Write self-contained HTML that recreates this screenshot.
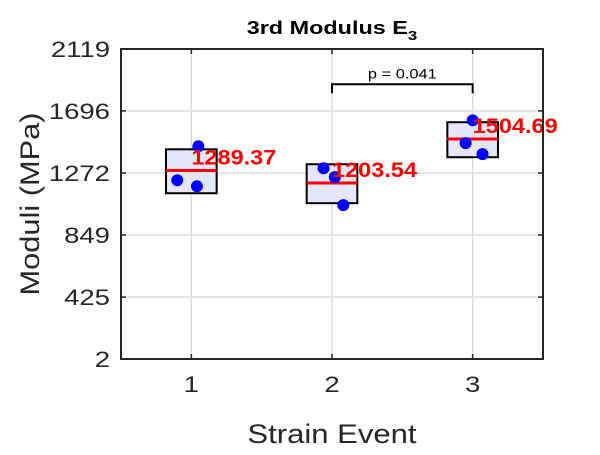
<!DOCTYPE html>
<html><head><meta charset="utf-8"><style>
body{margin:0;background:#fff}
svg{font-family:"Liberation Sans",Arial,sans-serif}
</style></head><body>
<svg id="chart" width="600" height="450"></svg>
<script>
const categories=[1,2,3];
const medians=[1289.37,1203.54,1504.69];
const boxTop=[1434,1332,1619];
const boxBottom=[1134,1066,1380];
const pointsX=[[1.05,0.9,1.04],[1.94,2.02,2.08],[3.0,2.95,3.07]];
const pointsY=[[1455,1223,1182],[1305,1244,1053],[1632,1476,1401]];
const yTicks=[2,425,849,1272,1696,2119];
const xTicks=[1,2,3];
const pValue="p = 0.041";
const bracketY=1878;

const L=121,R=543,T=49,B=359;
const xs=v=>L+(v-0.5)/3*(R-L);
const ys=v=>B-(v-2)/(2119-2)*(B-T);
const svg=document.getElementById('chart');
const NS='http://www.w3.org/2000/svg';
function mk(tag,attrs,parent){const e=document.createElementNS(NS,tag);for(const k in attrs)e.setAttribute(k,attrs[k]);(parent||svg).appendChild(e);return e;}
function widen(el,f){const w=el.getComputedTextLength();el.setAttribute('textLength',w*f);el.setAttribute('lengthAdjust','spacingAndGlyphs');}

yTicks.forEach(t=>{const g=mk('line',{x1:L,x2:R,y1:ys(t),y2:ys(t),stroke:'#dcdcdc','stroke-width':1.5});
});
xTicks.forEach(t=>{const g=mk('line',{x1:xs(t),x2:xs(t),y1:T,y2:B,stroke:'#dcdcdc','stroke-width':1.5});
});

categories.forEach((c,i)=>{
 const hw=0.18;
 const r=mk('rect',{x:xs(c-hw),y:ys(boxTop[i]),width:xs(c+hw)-xs(c-hw),height:ys(boxBottom[i])-ys(boxTop[i]),fill:'#e6e6fa',stroke:'#000','stroke-width':2});
 
 const m=mk('line',{x1:xs(c-hw),x2:xs(c+hw),y1:ys(medians[i]),y2:ys(medians[i]),stroke:'#f00','stroke-width':3});
 
 pointsX[i].forEach((px,j)=>{
  const p=mk('circle',{cx:xs(px),cy:ys(pointsY[i][j]),r:6,fill:'#0000ff'});
  
 });
 const t=mk('text',{x:xs(c),y:ys(medians[i])-6,fill:'#f00','font-size':21,'font-weight':'bold'});
 t.textContent=medians[i].toFixed(2);
 
 widen(t,1.12);
});

const by=ys(bracketY);
const br=mk('path',{d:`M${xs(2)},${by+9}V${by}H${xs(3)}V${by+9}`,fill:'none',stroke:'#000','stroke-width':2});

const pt=mk('text',{x:(xs(2)+xs(3))/2,y:by-6,'text-anchor':'middle','font-size':14});
pt.textContent=pValue;

widen(pt,1.17);

const ax=mk('rect',{x:L,y:T,width:R-L,height:B-T,fill:'none',stroke:'#262626','stroke-width':2});


yTicks.forEach(t=>{
 mk('line',{x1:L,x2:L+5,y1:ys(t),y2:ys(t),stroke:'#262626','stroke-width':1.5});
 mk('line',{x1:R,x2:R-5,y1:ys(t),y2:ys(t),stroke:'#262626','stroke-width':1.5});
 const l=mk('text',{x:L-11,y:ys(t)+8,'text-anchor':'end','font-size':22,fill:'#262626'});
 l.textContent=t;
 
 widen(l,1.25);
});
xTicks.forEach(t=>{
 mk('line',{x1:xs(t),x2:xs(t),y1:B,y2:B-5,stroke:'#262626','stroke-width':1.5});
 mk('line',{x1:xs(t),x2:xs(t),y1:T,y2:T+5,stroke:'#262626','stroke-width':1.5});
 const l=mk('text',{x:xs(t),y:B+33,'text-anchor':'middle','font-size':22,fill:'#262626'});
 l.textContent=t;
 
 widen(l,1.25);
});

const xt=mk('text',{x:(L+R)/2,y:443,'text-anchor':'middle','font-size':27,fill:'#262626'});
xt.textContent='Strain Event';

widen(xt,1.15);
const yt=mk('text',{x:0,y:0,'text-anchor':'middle','font-size':27,fill:'#262626',transform:`translate(39,${(T+B)/2}) rotate(-90)`});
yt.textContent='Moduli (MPa)';

widen(yt,1.14);
const ti=mk('text',{x:(L+R)/2,y:34,'text-anchor':'middle','font-size':18,'font-weight':'bold'});
ti.innerHTML='3rd Modulus E<tspan font-size="13" dy="6">3</tspan>';

widen(ti,1.3);
</script>
</body></html>
